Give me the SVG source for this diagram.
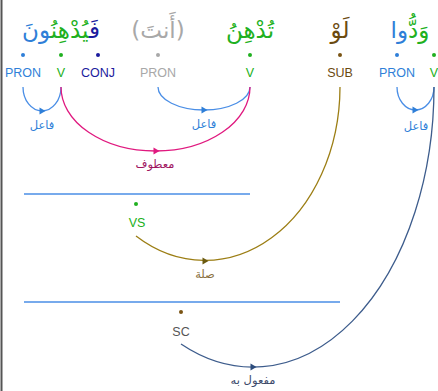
<svg xmlns="http://www.w3.org/2000/svg" width="438" height="391" viewBox="0 0 438 391">
<style>
.lab{font-family:"Liberation Sans",Arial,sans-serif;font-size:12.5px;text-anchor:middle}
.ar{font-family:"DejaVu Sans",sans-serif;text-anchor:middle;direction:rtl}
.w{font-size:23px}
.rel{font-size:11.5px}
.arc{fill:none;stroke-width:1.3}
</style>
<defs>
<path id="ah" d="M-2.5,-3.5 L3.5,0 L-2.5,3.5 Z"/>
</defs>
<rect x="0" y="0" width="438" height="391" fill="#ffffff"/>
<line x1="1.5" y1="0" x2="1.5" y2="391" stroke="#555" stroke-width="2"/>

<g id="w1">
<text class="ar w" x="61" y="38" direction="rtl"><tspan fill="#1b1b9e">فَ</tspan><tspan fill="#20b020">يُدْهِنُ</tspan><tspan fill="#2f7fd8">ونَ</tspan></text>
<circle cx="23" cy="55" r="2" fill="#2f7fd8"/><text class="lab" x="23" y="77" fill="#2f7fd8">PRON</text>
<circle cx="61" cy="55" r="2" fill="#20b020"/><text class="lab" x="61" y="77" fill="#20b020">V</text>
<circle cx="98" cy="55" r="2" fill="#1b1b9e"/><text class="lab" x="98" y="77" fill="#1b1b9e">CONJ</text>
</g>
<g id="w2">
<text class="ar w" x="158" y="38" fill="#a8a8a8" direction="rtl">(أَنتَ)</text>
<circle cx="158" cy="55" r="2" fill="#a8a8a8"/><text class="lab" x="158" y="77" fill="#a8a8a8">PRON</text>
</g>
<g id="w3">
<text class="ar w" x="250" y="38" fill="#20b020" direction="rtl">تُدْهِنُ</text>
<circle cx="250" cy="55" r="2" fill="#20b020"/><text class="lab" x="250" y="77" fill="#20b020">V</text>
</g>
<g id="w4">
<text class="ar w" x="340" y="38" fill="#6b4a10" direction="rtl">لَوْ</text>
<circle cx="340" cy="55" r="2" fill="#7a5414"/><text class="lab" x="340" y="77" fill="#6b4a10">SUB</text>
</g>
<g id="w5">
<text class="ar w" x="410" y="38" direction="rtl"><tspan fill="#20b020">وَدُّ</tspan><tspan fill="#2f7fd8">وا</tspan></text>
<circle cx="397" cy="55" r="2" fill="#2f7fd8"/><text class="lab" x="397" y="77" fill="#2f7fd8">PRON</text>
<circle cx="434" cy="55" r="2" fill="#20b020"/><text class="lab" x="434" y="77" fill="#20b020">V</text>
</g>
<g id="vs">
<line x1="24" y1="194" x2="250" y2="194" stroke="#4a8ee6" stroke-width="1.6"/>
<circle cx="136" cy="204" r="2" fill="#20b020"/><text class="lab" x="137" y="227" fill="#20b020">VS</text>
</g>
<g id="sc">
<line x1="24" y1="302" x2="340" y2="302" stroke="#4a8ee6" stroke-width="1.6"/>
<circle cx="181" cy="312" r="2" fill="#7a5414"/><text class="lab" x="181" y="336" fill="#555">SC</text>
</g>

<g id="connectors">
<path class="arc" stroke="#4a8ee6" d="M23,87 A19,24 0 0 0 61,87"/>
<use href="#ah" x="42" y="111" fill="#2f7fd8"/>
<text class="ar rel" x="42" y="129" fill="#2f7fd8">فاعل</text>

<path class="arc" stroke="#4a8ee6" d="M158,87 A46,23 0 0 0 250,87"/>
<use href="#ah" x="204" y="110" fill="#2f7fd8"/>
<text class="ar rel" x="204" y="128" fill="#2f7fd8">فاعل</text>

<path class="arc" stroke="#4a8ee6" d="M397,87 A18.5,23 0 0 0 434,87"/>
<use href="#ah" x="415" y="110" fill="#2f7fd8"/>
<text class="ar rel" x="416" y="130" fill="#2f7fd8">فاعل</text>

<path class="arc" stroke="#e0197f" d="M61,87 A94.5,64 0 0 0 250,87"/>
<use href="#ah" x="156" y="151" fill="#e0197f"/>
<text class="ar rel" x="155" y="168" fill="#a0145f">معطوف</text>

<path class="arc" stroke="#9c7e14" d="M136,236 A135,174 0 0 0 340,87"/>
<use href="#ah" x="205" y="261" fill="#6b5a10"/>
<text class="ar rel" x="205" y="278" fill="#8a7040">صلة</text>

<path class="arc" stroke="#3d5c8c" d="M181,344 A181,280 0 0 0 434,87"/>
<use href="#ah" x="253" y="367" fill="#2d4c7c"/>
<text class="ar rel" x="253" y="384" fill="#3c4a6a">مفعول به</text>
</g>
</svg>
